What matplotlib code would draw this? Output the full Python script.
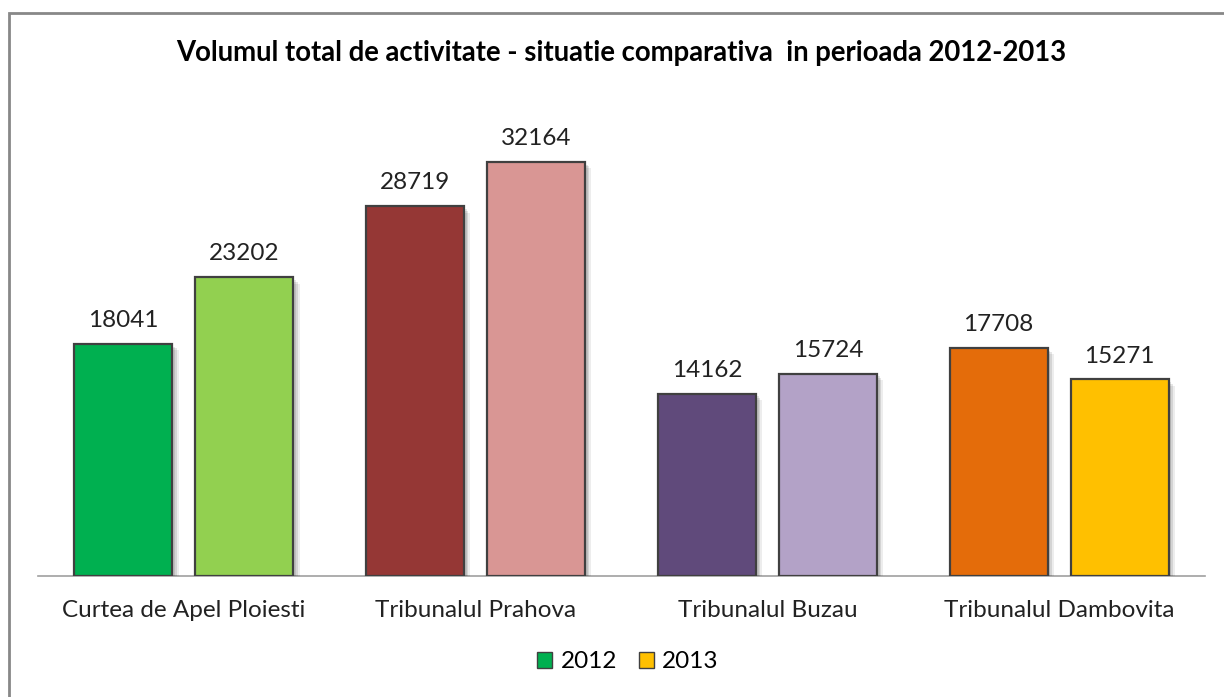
import matplotlib
matplotlib.use("Agg")
import matplotlib.pyplot as plt
import matplotlib.patheffects as pe
from matplotlib.patches import Rectangle, Patch
import numpy as np

categories = ["Curtea de Apel Ploiesti", "Tribunalul Prahova", "Tribunalul Buzau", "Tribunalul Dambovita"]
values_2012 = [18041, 28719, 14162, 17708]
values_2013 = [23202, 32164, 15724, 15271]
series_names = ["2012", "2013"]
colors_2012 = ["#00B050", "#953735", "#604A7B", "#E46C0A"]
colors_2013 = ["#92D050", "#D99694", "#B3A2C7", "#FFC000"]
title = "Volumul total de activitate - situatie comparativa  in perioada 2012-2013"

plt.rcParams['font.family'] = ['Lato', 'DejaVu Sans']

W, H = 1224, 697
fig = plt.figure(figsize=(W/100, H/100), dpi=100)

ax_left, ax_right = 38, 1205
ax_bottom_px = 576
ylim_top = 36000
px_per_unit = (576 - 162) / 32164.0
ax_top_px = ax_bottom_px - ylim_top * px_per_unit
ax = fig.add_axes([ax_left / W, 1 - ax_bottom_px / H, (ax_right - ax_left) / W, (ax_bottom_px - ax_top_px) / H])
ax.set_xlim(-0.5, len(categories) - 0.5)
ax.set_ylim(0, ylim_top)

x = np.arange(len(categories))
bw = 0.336
off = 0.2074
shadow = [pe.SimplePatchShadow(offset=(2, -2), shadow_rgbFace='#000000', alpha=0.10),
          pe.SimplePatchShadow(offset=(3, -3), shadow_rgbFace='#000000', alpha=0.10),
          pe.SimplePatchShadow(offset=(4.5, -4.5), shadow_rgbFace='#000000', alpha=0.07),
          pe.Normal()]
b1 = ax.bar(x - off, values_2012, bw, color=colors_2012, edgecolor='#404040', linewidth=1.6, zorder=3)
b2 = ax.bar(x + off, values_2013, bw, color=colors_2013, edgecolor='#404040', linewidth=1.6, zorder=3)
for bars in (b1, b2):
    for r in bars:
        r.set_path_effects(shadow)

for xs, vals in ((x - off, values_2012), (x + off, values_2013)):
    for xi, v in zip(xs, vals):
        ax.text(xi, v + 1000, str(v), ha='center', va='bottom', fontsize=17.5, color='#222222')

for s in ['top', 'right', 'left']:
    ax.spines[s].set_visible(False)
ax.spines['bottom'].set_color('#A0A0A0')
ax.spines['bottom'].set_linewidth(1.2)
ax.set_yticks([])
ax.set_xticks(x)
ax.set_xticklabels(categories, fontsize=17.5, color='#222222')
ax.tick_params(axis='x', length=0, pad=17)

fig.text(621 / W, 1 - 53 / H, title, ha='center', va='center', fontsize=19.8, fontweight='bold', color='#000000')

handles = [Patch(facecolor=colors_2012[0], edgecolor='#404040', linewidth=1),
           Patch(facecolor=colors_2013[3], edgecolor='#404040', linewidth=1)]
fig.legend(handles, series_names, loc='center', bbox_to_anchor=(628 / W, 1 - 662 / H), ncol=2, frameon=False,
           fontsize=17.5, handlelength=0.6, handleheight=0.6, handletextpad=0.35, columnspacing=0.9)

border = Rectangle((9 / W, -0.1), 1.2, (1 - 13 / H) + 0.1, transform=fig.transFigure, fill=False,
                   edgecolor='#888888', linewidth=2, clip_on=False)
fig.patches.append(border)

fig.savefig("out.png", dpi=100, facecolor='white')
